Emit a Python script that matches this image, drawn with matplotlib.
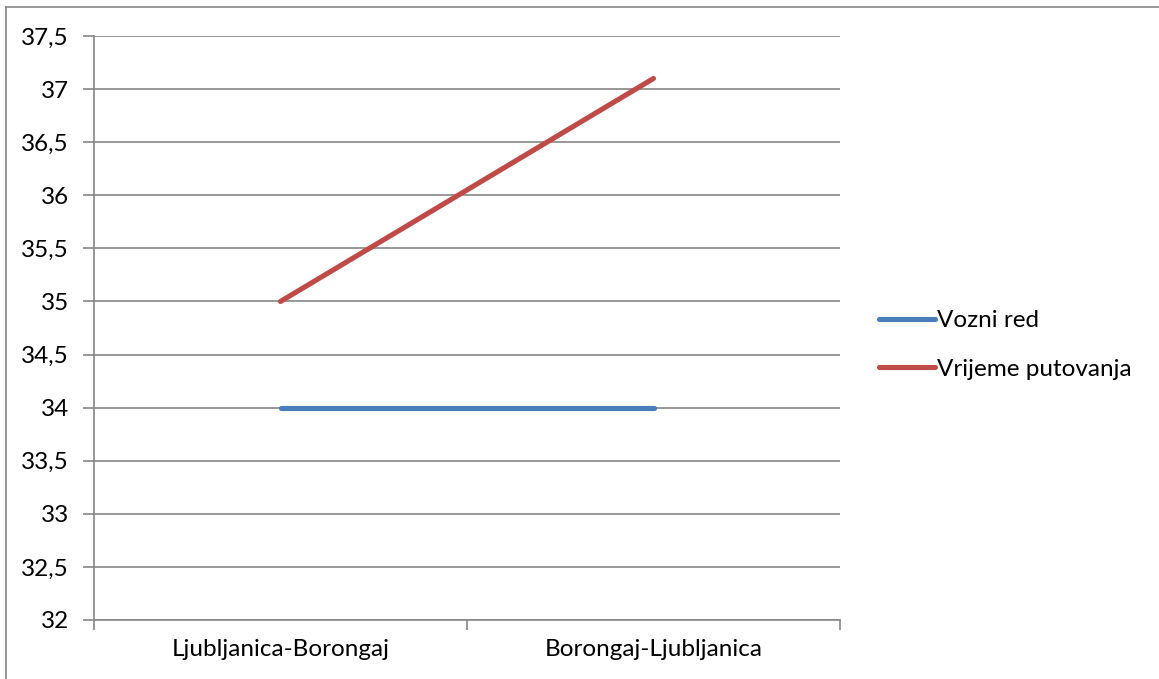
import matplotlib.pyplot as plt
from matplotlib.lines import Line2D

categories = ['Ljubljanica-Borongaj', 'Borongaj-Ljubljanica']
vozni_red = [34, 34]
vrijeme_putovanja = [35, 37.1]
yticks = [32, 32.5, 33, 33.5, 34, 34.5, 35, 35.5, 36, 36.5, 37, 37.5]

plt.rcParams['font.family'] = ['Lato', 'DejaVu Sans']
fs = 17.5

W, H = 1159, 679
fig = plt.figure(figsize=(W / 100, H / 100), dpi=100)
ax = fig.add_axes([94 / W, 1 - 620 / H, (840 - 94) / W, (620 - 36) / H])

grey = '#868686'
blue = '#4A7EBB'
red = '#BE4B48'
lw = 3.7
x = [0.5, 1.5]
ax.plot(x, vozni_red, color=blue, lw=lw, solid_capstyle='round', zorder=3)
ax.plot(x, vrijeme_putovanja, color=red, lw=lw, solid_capstyle='round', zorder=3)

ax.set_xlim(0, 2)
ax.set_ylim(32, 37.5)
ax.set_yticks(yticks)
ax.set_yticklabels([('%g' % v).replace('.', ',') for v in yticks])
ax.yaxis.grid(True, color=grey, lw=1.2)
ax.set_axisbelow(True)

ax.set_xticks([0, 1, 2])
ax.set_xticklabels([])
ax.set_xticks(x, minor=True)
ax.set_xticklabels(categories, minor=True)
ax.tick_params(axis='x', which='minor', length=0, pad=14, labelsize=fs)
ax.tick_params(axis='x', which='major', length=7, width=1.2, color=grey, direction='out')
ax.tick_params(axis='y', length=8, width=1.2, color=grey, pad=10, labelsize=fs)

for side in ['top', 'right']:
    ax.spines[side].set_visible(False)
for side in ['left', 'bottom']:
    ax.spines[side].set_color(grey)
    ax.spines[side].set_linewidth(1.2)

handles = [Line2D([], [], color=blue, lw=lw, solid_capstyle='round'),
           Line2D([], [], color=red, lw=lw, solid_capstyle='round')]
fig.legend(handles, ['Vozni red', 'Vrijeme putovanja'], loc='center left',
           bbox_to_anchor=(879 / W, 1 - 345 / H), frameon=False, fontsize=fs,
           handlelength=2.3, handletextpad=0.1, labelspacing=1.15,
           borderaxespad=0, borderpad=0)

# chart frame: only the left and top edges fall inside the picture
top = 1 - 6.5 / H
left = 5.5 / W
fig.add_artist(Line2D([left, left], [0, top], transform=fig.transFigure, color=grey, lw=1.2))
fig.add_artist(Line2D([left, 1], [top, top], transform=fig.transFigure, color=grey, lw=1.2))

fig.savefig('out.png', dpi=100)
